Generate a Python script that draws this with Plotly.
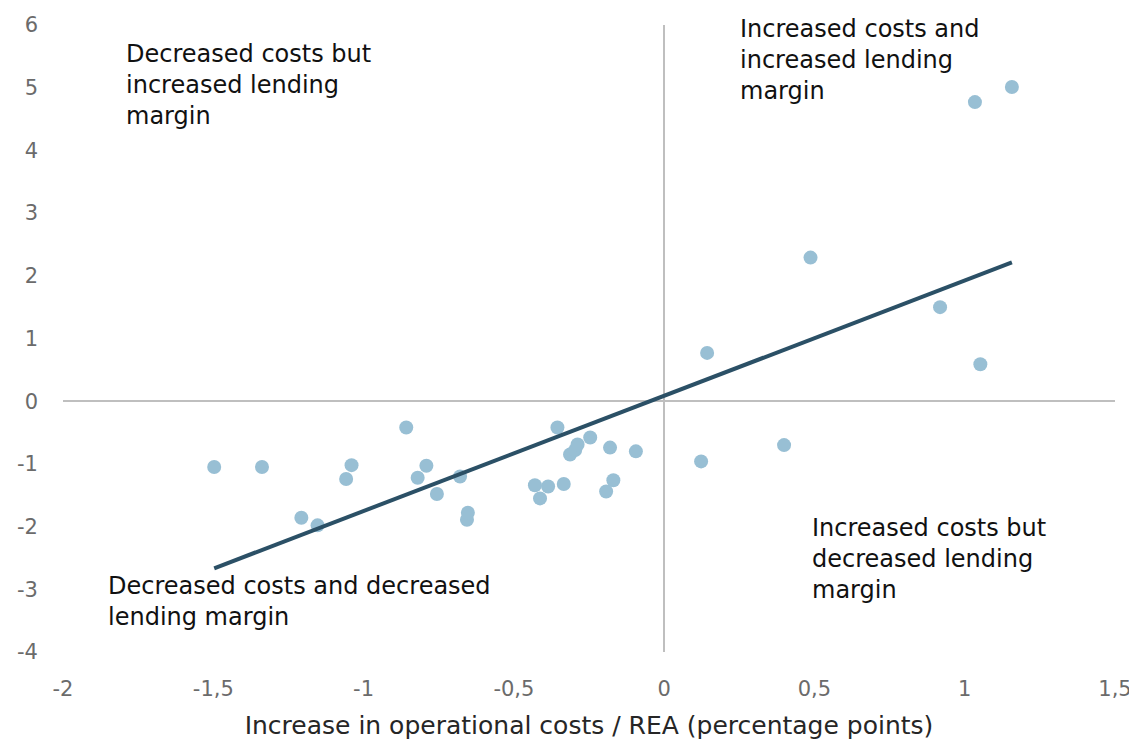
import numpy as np
import plotly.graph_objects as go

cost_change = [-1.497, -1.338, -1.207, -1.153, -1.058, -1.040, -0.858, -0.820, -0.791, -0.756,
               -0.679, -0.656, -0.653, -0.430, -0.413, -0.386, -0.355, -0.334, -0.313, -0.296,
               -0.288, -0.246, -0.193, -0.180, -0.169, -0.094, 0.123, 0.143, 0.399, 0.487,
               0.918, 1.034, 1.052, 1.157]
margin_change = [-1.05, -1.05, -1.86, -1.98, -1.24, -1.02, -0.42, -1.22, -1.03, -1.48,
                 -1.20, -1.89, -1.78, -1.34, -1.55, -1.36, -0.42, -1.32, -0.85, -0.78,
                 -0.69, -0.58, -1.44, -0.74, -1.26, -0.80, -0.96, 0.77, -0.70, 2.29,
                 1.50, 4.77, 0.59, 5.01]

quadrant_labels = ["Decreased costs but<br>increased lending<br>margin",
                   "Increased costs and<br>increased lending<br>margin",
                   "Increased costs but<br>decreased lending<br>margin",
                   "Decreased costs and decreased<br>lending margin"]
label_x = [-1.796, 0.246, 0.486, -1.856]
label_y = [5.80, 5.99, -1.76, -2.70]
label_shift = [0, 13, 0, 0]

x_ticks = [-2, -1.5, -1, -0.5, 0, 0.5, 1, 1.5]
x_tick_text = ["-2", "-1,5", "-1", "-0,5", "0", "0,5", "1", "1,5"]
y_ticks = [-4, -3, -2, -1, 0, 1, 2, 3, 4, 5, 6]
y_tick_text = ["-4", "-3", "-2", "-1", "0", "1", "2", "3", "4", "5", "6"]

slope, intercept = np.polyfit(cost_change, margin_change, 1)
tx = np.array([min(cost_change), max(cost_change)])
ty = slope * tx + intercept

FONT = "DejaVu Sans"
TICK = dict(family=FONT, size=21, color="#6b6b6b")
fig = go.Figure()
fig.add_trace(go.Scatter(x=cost_change, y=margin_change, mode="markers",
                         marker=dict(size=14, color="#98bfd4"), showlegend=False))
fig.add_trace(go.Scatter(x=tx, y=ty, mode="lines",
                         line=dict(color="#2b5066", width=4), showlegend=False))

for t, x, y, s in zip(quadrant_labels, label_x, label_y, label_shift):
    fig.add_annotation(x=x, y=y, text=t, showarrow=False, xanchor="left", yanchor="top",
                       align="left", yshift=s,
                       font=dict(family=FONT, size=24, color="#111111"))

fig.update_layout(
    width=1129, height=734,
    margin=dict(l=55, r=22, t=17, b=90),
    paper_bgcolor="white", plot_bgcolor="white",
    font=dict(family=FONT),
    xaxis=dict(range=[-2, 1.5], tickvals=x_ticks, ticktext=x_tick_text, showgrid=False,
               zeroline=True, zerolinecolor="#bfbfbf", zerolinewidth=2, showline=False,
               automargin=False, tickfont=TICK, ticklabelstandoff=22,
               title=dict(text="Increase in operational costs / REA (percentage points)",
                          font=dict(family=FONT, size=25, color="#262626"), standoff=16)),
    yaxis=dict(range=[-4, 6], tickvals=y_ticks, ticktext=y_tick_text, showgrid=False,
               zeroline=True, zerolinecolor="#bfbfbf", zerolinewidth=2, showline=False,
               automargin=False, tickfont=TICK, ticklabelstandoff=24),
)
fig.write_html("out.html")
